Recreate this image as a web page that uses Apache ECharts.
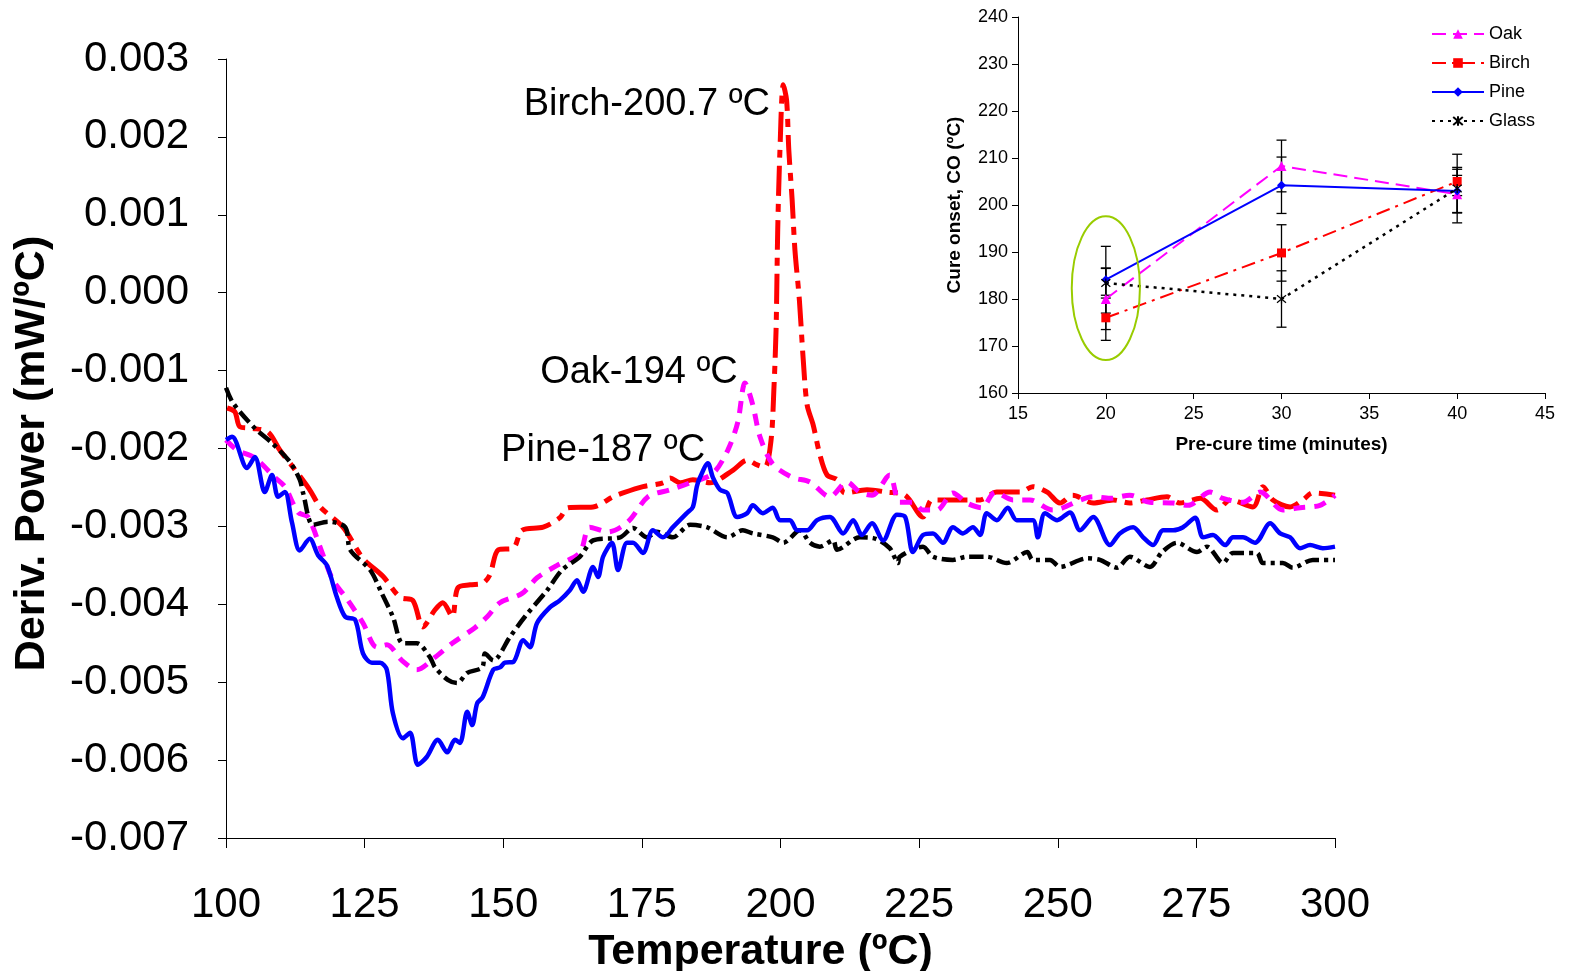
<!DOCTYPE html>
<html><head><meta charset="utf-8">
<script src="https://cdn.jsdelivr.net/npm/echarts@6/dist/echarts.min.js"></script>
<style>html,body{margin:0;padding:0;background:#fff}#c{width:1570px;height:971px}</style>
</head><body><div id="c"></div>
<script>
// ---------- Main chart data: [Temperature (°C), Deriv. Power (mW/°C)] ----------
const tempTicks = [100,125,150,175,200,225,250,275,300];
const pineData = [[100,-0.00189],[101.1,-0.00185],[103.8,-0.00225],[105.2,-0.00211],[107.0,-0.00256],[108.3,-0.00234],[109.4,-0.00262],[110.6,-0.00256],[111.9,-0.00295],[113.3,-0.00331],[115.1,-0.00316],[116.6,-0.00337],[118.2,-0.00350],[120.0,-0.00391],[121.5,-0.00416],[123.3,-0.00420],[124.7,-0.00463],[126.3,-0.00475],[127.8,-0.00475],[129.0,-0.00484],[130.1,-0.00540],[131.9,-0.00572],[133.2,-0.00565],[134.6,-0.00606],[136.2,-0.00596],[138.2,-0.00574],[139.9,-0.00590],[141.3,-0.00574],[142.2,-0.00578],[143.5,-0.00538],[144.4,-0.00555],[145.3,-0.00527],[146.3,-0.00519],[148.2,-0.00484],[149.4,-0.00481],[150.3,-0.00475],[151.8,-0.00474],[153.6,-0.00446],[154.8,-0.00455],[156.1,-0.00424],[158.4,-0.00404],[160.2,-0.00395],[162.0,-0.00382],[163.3,-0.00369],[164.4,-0.00384],[166.2,-0.00352],[167.1,-0.00365],[168.0,-0.00339],[169.6,-0.00321],[170.7,-0.00356],[172.3,-0.00321],[173.4,-0.00321],[175.2,-0.00334],[177.0,-0.00305],[178.8,-0.00314],[180.6,-0.00301],[183.1,-0.00283],[184.2,-0.00275],[184.9,-0.00249],[185.5,-0.00237],[186.9,-0.00219],[187.8,-0.00237],[189.1,-0.00253],[190.4,-0.00257],[192.2,-0.00288],[194.0,-0.00283],[195.0,-0.00273],[196.8,-0.00283],[198.6,-0.00276],[199.9,-0.00292],[201.7,-0.00292],[203.0,-0.00305],[204.8,-0.00305],[206.6,-0.00292],[208.9,-0.00288],[211.3,-0.00309],[213.1,-0.00292],[214.7,-0.00311],[216.5,-0.00296],[218.5,-0.00318],[221.0,-0.00285],[222.5,-0.00288],[223.9,-0.00333],[225.7,-0.00311],[227.5,-0.00309],[229.3,-0.00321],[231.1,-0.00301],[232.9,-0.00309],[234.7,-0.00301],[236.0,-0.00311],[237.2,-0.00283],[239.0,-0.00292],[241.0,-0.00276],[242.6,-0.00292],[245.5,-0.00292],[246.4,-0.00314],[247.7,-0.00283],[249.9,-0.00292],[252.2,-0.00282],[254.0,-0.00305],[256.4,-0.00288],[259.4,-0.00324],[261.2,-0.00309],[263.6,-0.00301],[265.4,-0.00314],[267.2,-0.00324],[269.0,-0.00305],[270.8,-0.00305],[272.6,-0.00301],[274.8,-0.00289],[276.2,-0.00314],[278.0,-0.00311],[280.2,-0.00324],[281.6,-0.00314],[283.4,-0.00314],[285.6,-0.00321],[288.3,-0.00296],[290.1,-0.00309],[291.9,-0.00314],[293.7,-0.00328],[295.5,-0.00324],[297.8,-0.00328],[300,-0.00326]];
const birchData = [[100.2,-0.00148],[101.6,-0.00153],[102.5,-0.00172],[104.7,-0.00174],[107.6,-0.00179],[109.7,-0.00202],[112.1,-0.00224],[115.1,-0.00253],[117.0,-0.00275],[121.1,-0.00301],[124.7,-0.00341],[128.3,-0.00364],[131.4,-0.00391],[133.7,-0.00395],[135.5,-0.00429],[137.7,-0.00407],[139.1,-0.00398],[140.8,-0.00416],[141.8,-0.00379],[144.0,-0.00375],[146.3,-0.00373],[147.6,-0.00362],[149.1,-0.00330],[151.8,-0.00328],[153.4,-0.00305],[157.2,-0.00301],[160.2,-0.00289],[161.7,-0.00276],[166.2,-0.00275],[169.8,-0.00262],[171.6,-0.00257],[175.2,-0.00249],[178.8,-0.00244],[180.1,-0.00238],[181.9,-0.00244],[184.2,-0.00240],[187.3,-0.00244],[191.4,-0.00228],[194.0,-0.00215],[195.8,-0.00221],[197.2,-0.00224],[198.3,-0.00189],[198.8,-0.00125],[199.2,-0.00048],[199.5,0.00081],[199.9,0.00183],[200.5,0.00267],[201.1,0.00247],[201.5,0.00183],[202.1,0.00119],[202.6,0.00055],[203.4,-0.00009],[204.1,-0.00086],[204.8,-0.00144],[205.9,-0.00170],[207.1,-0.00208],[208.4,-0.00234],[210.2,-0.00240],[211.6,-0.00257],[215.6,-0.00253],[219.2,-0.00256],[222.5,-0.00260],[225.7,-0.00288],[227.3,-0.00266],[230.0,-0.00266],[232.9,-0.00266],[236.0,-0.00266],[239.0,-0.00256],[243.2,-0.00256],[245.5,-0.00249],[248.1,-0.00256],[250.4,-0.00270],[252.7,-0.00260],[256.4,-0.00270],[260.0,-0.00266],[263.0,-0.00270],[266.1,-0.00266],[269.7,-0.00262],[272.0,-0.00270],[275.7,-0.00264],[278.7,-0.00279],[281.1,-0.00266],[285.2,-0.00275],[287.0,-0.00249],[288.8,-0.00266],[291.9,-0.00275],[294.2,-0.00266],[296.0,-0.00257],[300,-0.00260]];
const oakData = [[100,-0.00189],[102.0,-0.00202],[105.2,-0.00212],[108.8,-0.00237],[110.6,-0.00249],[113.0,-0.00282],[114.8,-0.00288],[117.3,-0.00333],[119.3,-0.00369],[122.0,-0.00395],[124.7,-0.00424],[127.2,-0.00455],[129.0,-0.00452],[131.7,-0.00472],[134.4,-0.00484],[137.7,-0.00468],[140.8,-0.00450],[144.9,-0.00430],[147.1,-0.00416],[149.4,-0.00398],[153.4,-0.00386],[156.1,-0.00366],[159.7,-0.00350],[163.8,-0.00334],[165.6,-0.00301],[168.9,-0.00307],[172.5,-0.00294],[176.1,-0.00262],[180.1,-0.00253],[183.7,-0.00244],[187.8,-0.00232],[190.5,-0.00202],[192.3,-0.00166],[193.6,-0.00116],[195.0,-0.00144],[196.3,-0.00185],[198.6,-0.00220],[202.1,-0.00237],[205.3,-0.00243],[208.9,-0.00262],[212.0,-0.00243],[214.3,-0.00256],[216.5,-0.00260],[219.7,-0.00234],[221.5,-0.00269],[223.9,-0.00269],[225.7,-0.00279],[228.2,-0.00279],[231.1,-0.00257],[233.6,-0.00270],[236.3,-0.00276],[238.7,-0.00256],[241.9,-0.00266],[245.0,-0.00266],[249.1,-0.00279],[256.4,-0.00262],[259.4,-0.00264],[263.0,-0.00260],[266.6,-0.00269],[270.8,-0.00270],[273.5,-0.00273],[277.5,-0.00256],[279.8,-0.00264],[283.4,-0.00269],[286.5,-0.00256],[290.6,-0.00279],[293.7,-0.00276],[297.3,-0.00273],[300,-0.00260]];
const glassData = [[100,-0.00122],[101.3,-0.00142],[105.2,-0.00174],[108.3,-0.00193],[111.5,-0.00217],[113.3,-0.00240],[113.9,-0.00257],[115.7,-0.00298],[118.4,-0.00294],[121.5,-0.00301],[122.4,-0.00330],[126.0,-0.00356],[128.1,-0.00386],[130.1,-0.00416],[131.9,-0.00450],[134.4,-0.00450],[136.8,-0.00468],[137.7,-0.00481],[140.0,-0.00497],[141.7,-0.00501],[143.5,-0.00488],[146.2,-0.00481],[146.7,-0.00463],[148.2,-0.00472],[151.2,-0.00442],[153.9,-0.00416],[157.9,-0.00382],[160.6,-0.00356],[163.8,-0.00339],[166.2,-0.00318],[171.1,-0.00314],[173.4,-0.00302],[175.9,-0.00314],[177.7,-0.00307],[180.6,-0.00314],[183.7,-0.00298],[186.7,-0.00301],[190.4,-0.00314],[193.2,-0.00305],[195.0,-0.00309],[198.6,-0.00314],[200.5,-0.00321],[203.5,-0.00305],[205.3,-0.00321],[207.1,-0.00326],[209.5,-0.00318],[210.2,-0.00330],[214.3,-0.00314],[216.7,-0.00315],[219.7,-0.00328],[221.2,-0.00347],[221.5,-0.00339],[225.7,-0.00326],[227.5,-0.00339],[231.1,-0.00343],[233.6,-0.00339],[237.2,-0.00339],[240.8,-0.00347],[244.5,-0.00333],[245.5,-0.00343],[248.6,-0.00343],[250.4,-0.00352],[255.3,-0.00341],[257.6,-0.00343],[260.7,-0.00353],[263.0,-0.00339],[266.6,-0.00352],[268.8,-0.00333],[271.5,-0.00321],[275.1,-0.00333],[276.9,-0.00326],[279.8,-0.00347],[281.6,-0.00334],[285.9,-0.00334],[287.0,-0.00347],[290.6,-0.00347],[292.4,-0.00353],[296.0,-0.00343],[300,-0.00343]];
const peakLabels = ['Birch-200.7 ºC','Oak-194 ºC','Pine-187 ºC'];

// ---------- Inset data ----------
const precureTimes = [20,30,40];
const oakOnset   = [180.0,208.3,202.3];
const birchOnset = [176.0,189.8,205.0];
const pineOnset  = [184.1,204.2,203.0];
const glassOnset = [183.4,180.0,203.5];
const oakErr   = [6.5,5.5,4.0];
const birchErr = [4.8,6.0,3.0];
const pineErr  = [7.1,6.0,4.6];
const glassErr = [3.2,6.0,7.3];

const FONT = 'Liberation Sans, Arial, sans-serif';
const chart = echarts.init(document.getElementById('c'), null, {renderer:'canvas'});

function pairs(xs, ys){ return xs.map((x,i)=>[x,ys[i]]); }
function errSeries(ys, errs, color){
  return {
    type:'custom', xAxisIndex:1, yAxisIndex:1, z:5, silent:true,
    data: precureTimes.map((x,i)=>[x, ys[i]-errs[i], ys[i]+errs[i]]),
    renderItem(params, api){
      const lo = api.coord([api.value(0), api.value(1)]);
      const hi = api.coord([api.value(0), api.value(2)]);
      const w = 5;
      const st = {stroke:color, lineWidth:1.3};
      return {type:'group', children:[
        {type:'line', shape:{x1:lo[0],y1:lo[1],x2:hi[0],y2:hi[1]}, style:st},
        {type:'line', shape:{x1:lo[0]-w,y1:lo[1],x2:lo[0]+w,y2:lo[1]}, style:st},
        {type:'line', shape:{x1:hi[0]-w,y1:hi[1],x2:hi[0]+w,y2:hi[1]}, style:st}
      ]};
    }
  };
}

const mainLine = (name, data, color, width, type, z) => ({
  name, type:'line', xAxisIndex:0, yAxisIndex:0, data, showSymbol:false, symbol:'none',
  smooth:0.3, lineStyle:{color, width, type}, z, silent:true, animation:false
});

const starPath = 'path://M0,0L10,10M10,0L0,10M5,-1L5,11';

const option = {
  animation:false,
  backgroundColor:'#fff',
  textStyle:{fontFamily:FONT},
  grid:[
    {left:226, right:235, top:59, bottom:133, outerBoundsMode:'none', containLabel:false},
    {left:1018, right:25, top:17, bottom:578, outerBoundsMode:'none', containLabel:false}
  ],
  xAxis:[
    {type:'value', gridIndex:0, min:100, max:300, interval:25,
     name:'Temperature (ºC)', nameLocation:'middle', nameGap:88,
     nameTextStyle:{fontFamily:FONT, fontSize:43, fontWeight:'bold', color:'#000', verticalAlign:'top', padding:[0,40,0,0]},
     axisLine:{onZero:false, lineStyle:{color:'#000', width:1}}, axisTick:{length:10, lineStyle:{color:'#000'}},
     axisLabel:{fontFamily:FONT, fontSize:42, color:'#000', margin:46}, splitLine:{show:false}},
    {type:'value', gridIndex:1, min:15, max:45, interval:5,
     name:'Pre-cure time (minutes)', nameLocation:'middle', nameGap:42,
     nameTextStyle:{fontFamily:FONT, fontSize:19, fontWeight:'bold', color:'#000', verticalAlign:'top'},
     axisLine:{onZero:false, lineStyle:{color:'#000', width:1}}, axisTick:{length:6, lineStyle:{color:'#000'}},
     axisLabel:{fontFamily:FONT, fontSize:18, color:'#000', margin:12}, splitLine:{show:false}}
  ],
  yAxis:[
    {type:'value', gridIndex:0, min:-0.007, max:0.003, interval:0.001,
     name:'Deriv. Power (mW/ºC)', nameLocation:'middle', nameGap:172, nameRotate:90,
     nameTextStyle:{fontFamily:FONT, fontSize:43, fontWeight:'bold', color:'#000', padding:[0,10,0,0]},
     axisLine:{show:true, onZero:false, lineStyle:{color:'#000', width:1}}, axisTick:{show:true, length:8, lineStyle:{color:'#000'}},
     axisLabel:{fontFamily:FONT, fontSize:42, color:'#000', margin:37,
       formatter:v=>Math.abs(v)<1e-9?'0.000':v.toFixed(3)}, splitLine:{show:false}},
    {type:'value', gridIndex:1, min:160, max:240, interval:10,
     name:'Cure onset, CO (ºC)', nameLocation:'middle', nameGap:54, nameRotate:90,
     nameTextStyle:{fontFamily:FONT, fontSize:19, fontWeight:'bold', color:'#000'},
     axisLine:{show:true, onZero:false, lineStyle:{color:'#000', width:1}}, axisTick:{show:true, length:6, lineStyle:{color:'#000'}},
     axisLabel:{fontFamily:FONT, fontSize:18, color:'#000', margin:10}, splitLine:{show:false}}
  ],
  legend:{
    data:['Oak','Birch','Pine','Glass'], orient:'vertical', left:1426, top:20,
    itemWidth:52, itemHeight:12, itemGap:11,
    textStyle:{fontFamily:FONT, fontSize:18, color:'#000'}
  },
  series:[
    mainLine('mBirch', birchData, '#FF0000', 5, [30,8,8,8], 2),
    mainLine('mOak', oakData, '#FF00FF', 5, [12,9], 3),
    mainLine('mGlass', glassData, '#000000', 4.5, [14,5,4,5], 4),
    mainLine('mPine', pineData, '#0000FF', 4.5, 'solid', 5),
    errSeries(oakOnset, oakErr, '#000'),
    errSeries(birchOnset, birchErr, '#000'),
    errSeries(pineOnset, pineErr, '#000'),
    errSeries(glassOnset, glassErr, '#000'),
    {name:'Oak', type:'line', xAxisIndex:1, yAxisIndex:1, data:pairs(precureTimes, oakOnset),
     symbol:'triangle', symbolSize:10, lineStyle:{color:'#FF00FF', width:2, type:[14,7]},
     itemStyle:{color:'#FF00FF'}, z:6},
    {name:'Birch', type:'line', xAxisIndex:1, yAxisIndex:1, data:pairs(precureTimes, birchOnset),
     symbol:'rect', symbolSize:9, lineStyle:{color:'#FF0000', width:2, type:[14,6,3,6]},
     itemStyle:{color:'#FF0000'}, z:6},
    {name:'Pine', type:'line', xAxisIndex:1, yAxisIndex:1, data:pairs(precureTimes, pineOnset),
     symbol:'diamond', symbolSize:9, lineStyle:{color:'#0000FF', width:2, type:'solid'},
     itemStyle:{color:'#0000FF'}, z:6},
    {name:'Glass', type:'line', xAxisIndex:1, yAxisIndex:1, data:pairs(precureTimes, glassOnset),
     symbol:starPath, symbolSize:9, lineStyle:{color:'#000', width:2.5, type:[3,5]},
     itemStyle:{color:'#000', borderColor:'#000', borderWidth:1.2}, z:6}
  ]
};
chart.setOption(option);

// Annotations placed via data coordinates
const annotAt = [[198.1,0.00242],[192.3,-0.00103],[186.4,-0.00202]];
const gfx = peakLabels.map((t,i)=>{
  const p = chart.convertToPixel({gridIndex:0}, annotAt[i]);
  return {type:'text', x:p[0], y:p[1], z:20,
    style:{text:t, fontFamily:FONT, fontSize:38, fill:'#000', align:'right', verticalAlign:'middle'}};
});
// Highlight ellipse around the 20-minute points in the inset
const c0 = chart.convertToPixel({gridIndex:1}, [20, 182.3]);
const cx1 = chart.convertToPixel({gridIndex:1}, [21.94, 182.3]);
const cy1 = chart.convertToPixel({gridIndex:1}, [20, 197.6]);
gfx.push({type:'ellipse', z:20, shape:{cx:c0[0], cy:c0[1], rx:Math.abs(cx1[0]-c0[0]), ry:Math.abs(c0[1]-cy1[1])},
  style:{fill:'none', stroke:'#99CC00', lineWidth:2}});
chart.setOption({graphic:gfx});
</script>
</body></html>
